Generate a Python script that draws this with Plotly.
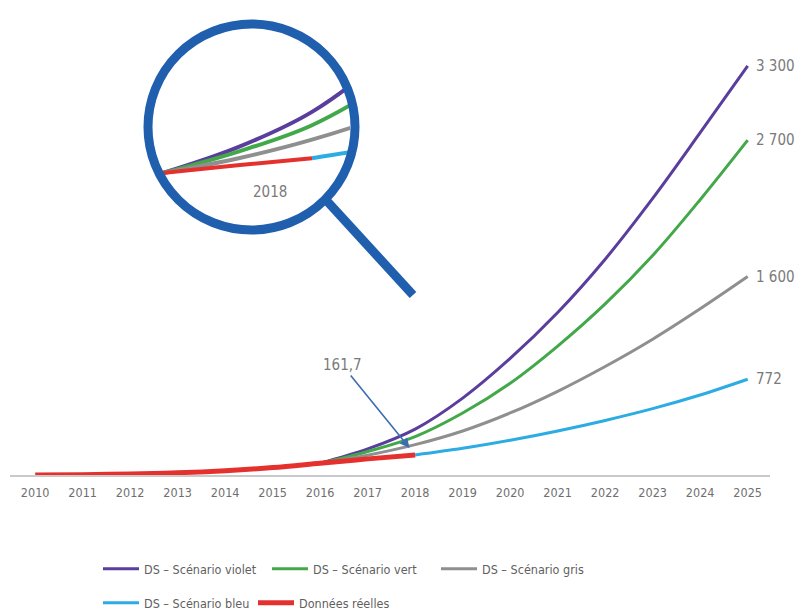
import plotly.graph_objects as go

# ─── Data ────────────────────────────────────────────────────────────────────
years_real = [2010, 2011, 2012, 2013, 2014, 2015, 2016, 2017, 2018]
real_values = [1, 3, 8, 18, 35, 60, 95, 130, 161.7]

years_scen = [2016, 2017, 2018, 2019, 2020, 2021, 2022, 2023, 2024, 2025]
violet = [95, 210, 370, 620, 940, 1310, 1740, 2230, 2760, 3300]
vert = [95, 190, 310, 500, 740, 1040, 1380, 1770, 2220, 2700]
gris = [95, 160, 245, 355, 500, 675, 875, 1095, 1340, 1600]

years_bleu = [2018, 2019, 2020, 2021, 2022, 2023, 2024, 2025]
bleu = [161.7, 215, 280, 355, 440, 535, 645, 772]

tick_years = list(range(2010, 2026))

# ─── Style ───────────────────────────────────────────────────────────────────
C_VIOLET = "#5a3d9c"
C_VERT = "#43a84a"
C_GRIS = "#8f8f8f"
C_BLEU = "#2cace3"
C_ROUGE = "#e5312e"
C_LOUPE = "#1f5fae"
C_TEXT = "#7a7a7a"
FONT = "Liberation Sans Narrow, DejaVu Sans Condensed, Roboto, sans-serif"

# the page body has an 8px margin, so the figure starts at (8, 8) on screen
OFF = 8
W, H = 802, 603
L, R, T, B = 2, 40, 12, 136
PW, PH = W - L - R, H - T - B


def px(x):
    """screen x -> paper x"""
    return (x - OFF - L) / PW


def py(y):
    """screen y -> paper y"""
    return (H - B - (y - OFF)) / PH


series = [
    ("DS – Scénario violet", years_scen, violet, C_VIOLET, 3, "legend"),
    ("DS – Scénario vert", years_scen, vert, C_VERT, 3, "legend"),
    ("DS – Scénario gris", years_scen, gris, C_GRIS, 3, "legend"),
    ("DS – Scénario bleu", years_bleu, bleu, C_BLEU, 3, "legend2"),
    ("Données réelles", years_real, real_values, C_ROUGE, 5, "legend2"),
]

fig = go.Figure()
for name, xs, ys, color, width, leg in series:
    fig.add_trace(go.Scatter(
        x=xs, y=ys, name=name, mode="lines", legend=leg,
        line=dict(color=color, width=width, shape="spline"),
    ))
# magnified view inside the loupe
for name, xs, ys, color, width, leg in series:
    fig.add_trace(go.Scatter(
        x=xs, y=ys, name=name, mode="lines", showlegend=False,
        xaxis="x2", yaxis="y2",
        line=dict(color=color, width=4, shape="spline"),
        hoverinfo="skip",
    ))

# end-of-line value labels
for name, xs, ys, color, width, leg in series[:4]:
    fig.add_annotation(
        x=xs[-1], y=ys[-1], text=f"{int(ys[-1]):,}".replace(",", " "),
        showarrow=False, xanchor="left", xshift=6,
        font=dict(size=15, color=C_TEXT, family=FONT),
    )

fig.add_annotation(
    x=years_real[-1], y=real_values[-1],
    text=str(real_values[-1]).replace(".", ","),
    showarrow=True, ax=-73, ay=-90, arrowhead=2, arrowsize=1.2,
    arrowwidth=1.6, arrowcolor="#3d6db0", standoff=9,
    font=dict(size=15, color=C_TEXT, family=FONT),
)
fig.add_annotation(
    xref="paper", yref="paper", x=px(251), y=py(192), text="2018",
    showarrow=False, font=dict(size=15, color=C_TEXT, family=FONT),
)

# loupe ring and handle
fig.add_shape(type="circle", xref="paper", yref="paper",
              x0=px(148), x1=px(355), y0=py(230), y1=py(24),
              line=dict(color=C_LOUPE, width=9))
fig.add_shape(type="line", xref="paper", yref="paper",
              x0=px(326), y0=py(200), x1=px(413), y1=py(295),
              line=dict(color=C_LOUPE, width=9))

legend_style = dict(orientation="h", xanchor="left", yanchor="middle",
                    entrywidthmode="pixels", itemwidth=36,
                    font=dict(size=12.5, color="#5f5f5f", family=FONT),
                    bgcolor="rgba(0,0,0,0)")

fig.update_layout(
    width=W, height=H,
    margin=dict(l=L, r=R, t=T, b=B, autoexpand=False),
    paper_bgcolor="white", plot_bgcolor="white",
    font=dict(family=FONT, color=C_TEXT),
    xaxis=dict(
        range=[2009.47, 2025.47], tickvals=tick_years,
        showgrid=False, zeroline=False, showline=True,
        linecolor="#c9c9c9", linewidth=2, ticks="",
        ticklabelstandoff=5, automargin=False,
        tickfont=dict(size=12.5, color="#6f6f6f", family=FONT),
    ),
    yaxis=dict(range=[0, 3669], visible=False, showgrid=False, zeroline=False),
    xaxis2=dict(domain=[px(160), px(350)], range=[2015.96, 2018.51],
                visible=False, anchor="y2"),
    yaxis2=dict(domain=[py(180), py(80)], range=[63.5, 513.5],
                visible=False, anchor="x2"),
    legend=dict(x=px(98), y=py(569), entrywidth=118, **legend_style),
    legend2=dict(x=px(98), y=py(603), entrywidth=104, **legend_style),
)

fig.write_html("out.html")
